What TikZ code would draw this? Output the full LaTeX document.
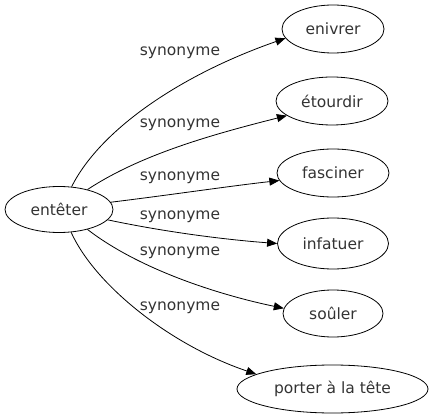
\documentclass[tikz,border=0pt]{standalone}
\usepackage{fontspec}
\setmainfont{DejaVu Sans}
\usetikzlibrary{shapes.geometric,arrows.meta}
\begin{document}
\begin{tikzpicture}[x=1pt,y=-1pt,
  word/.style={draw,ellipse,line width=0.8pt,inner sep=0pt,font=\fontsize{15.5}{18}\selectfont,text=black!80},
  lbl/.style={font=\fontsize{15.5}{18}\selectfont,text=black!80,inner sep=0pt},
  syn/.style={draw,line width=0.8pt,-{Triangle[length=10pt,width=8pt]}}]
\useasboundingbox (0,0) rectangle (433,419);
\node[word,minimum width=108pt,minimum height=46pt] (e) at (59,209.5) {entêter};
\node[word,minimum width=102pt,minimum height=48pt] (n1) at (333,29) {enivrer};
\node[word,minimum width=112pt,minimum height=48pt] (n2) at (332,101) {étourdir};
\node[word,minimum width=112pt,minimum height=48pt] (n3) at (333,173) {fasciner};
\node[word,minimum width=111pt,minimum height=51pt] (n4) at (333,243.5) {infatuer};
\node[word,minimum width=100pt,minimum height=47pt] (n5) at (333,313.5) {soûler};
\node[word,minimum width=191pt,minimum height=48pt] (n6) at (332.5,389) {porter à la tête};
\node[lbl] (l1) at (180,53) {synonyme};
\node[lbl] (l2) at (180,125) {synonyme};
\node[lbl] (l3) at (180,178) {synonyme};
\node[lbl] (l4) at (180,217) {synonyme};
\node[lbl] (l5) at (180,253) {synonyme};
\node[lbl] (l6) at (180,308) {synonyme};
\draw[syn] (e.61) .. controls (100,130) and (180,75) .. (n1.191);
\draw[syn] (e.35) .. controls (140,155) and (210,135) .. (n2.198);
\draw[syn] (e.8) .. controls (170,195) and (230,186) .. (n3.188);
\draw[syn] (e.-12) .. controls (170,233) and (230,240) .. (n4.180);
\draw[syn] (e.-35) .. controls (140,270) and (220,295) .. (n5.174);
\draw[syn] (e.-62) .. controls (95,285) and (170,345) .. (n6.169);
\end{tikzpicture}
\end{document}
